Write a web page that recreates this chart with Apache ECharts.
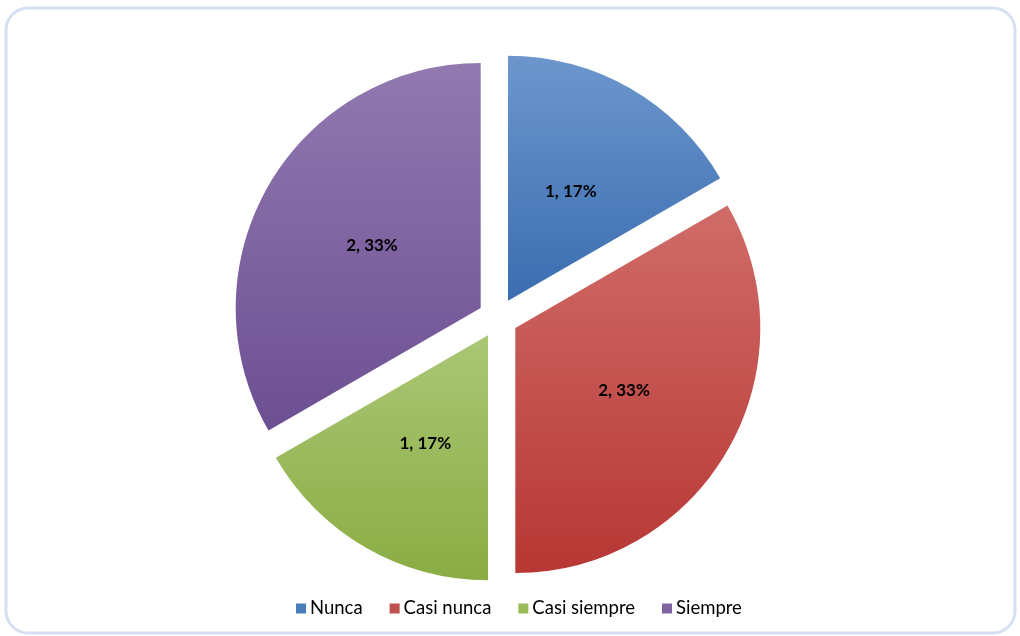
<!DOCTYPE html>
<html>
<head>
<meta charset="utf-8">
<script src="https://cdn.jsdelivr.net/npm/echarts@6/dist/echarts.min.js"></script>
<style>
html,body{margin:0;padding:0;background:#fff;}
#main{width:1020px;height:636px;}
</style>
</head>
<body>
<div id="main"></div>
<script>
const categories = ['Nunca', 'Casi nunca', 'Casi siempre', 'Siempre'];
const values = [1, 2, 1, 2];
const colorsTop = ['#6d96cd', '#d06c68', '#aac775', '#9279b0'];
const colorsBottom = ['#3a6db0', '#b73734', '#8aac43', '#6c4f92'];
const legendColors = ['#4a7ebb', '#c0504d', '#9bbb59', '#8064a2'];

const chart = echarts.init(document.getElementById('main'), null, {renderer: 'canvas'});
const data = categories.map((name, i) => ({
  name: name,
  value: values[i],
  selected: true,
  itemStyle: {
    color: new echarts.graphic.LinearGradient(0, 0, 0, 1, [
      {offset: 0, color: colorsTop[i]},
      {offset: 1, color: colorsBottom[i]}
    ])
  }
}));

chart.setOption({
  animation: false,
  color: legendColors,
  graphic: [{
    type: 'rect',
    shape: {x: 6, y: 8, width: 1009, height: 625, r: 22},
    style: {fill: 'none', stroke: '#d5e1f1', lineWidth: 3},
    silent: true
  }],
  legend: {
    top: 594,
    left: 291,
    itemWidth: 10,
    itemHeight: 10,
    itemGap: 27,
    icon: 'rect',
    textStyle: {fontFamily: 'Lato', fontSize: 18.5, color: '#000', padding: [0, 0, 0, -1]},
    data: categories.map((n, i) => ({name: n, itemStyle: {color: legendColors[i]}}))
  },
  series: [{
    type: 'pie',
    center: [498, 318],
    radius: 245,
    startAngle: 90,
    selectedMode: 'multiple',
    selectedOffset: 20,
    label: {
      show: true,
      position: 'inside',
      fontFamily: 'Lato',
      fontWeight: 'bold',
      fontSize: 17,
      color: '#000',
      formatter: p => p.value + ', ' + Math.round(p.percent) + '%'
    },
    labelLine: {show: false},
    emphasis: {disabled: true},
    itemStyle: {borderWidth: 0},
    data: data
  }]
});
</script>
</body>
</html>
